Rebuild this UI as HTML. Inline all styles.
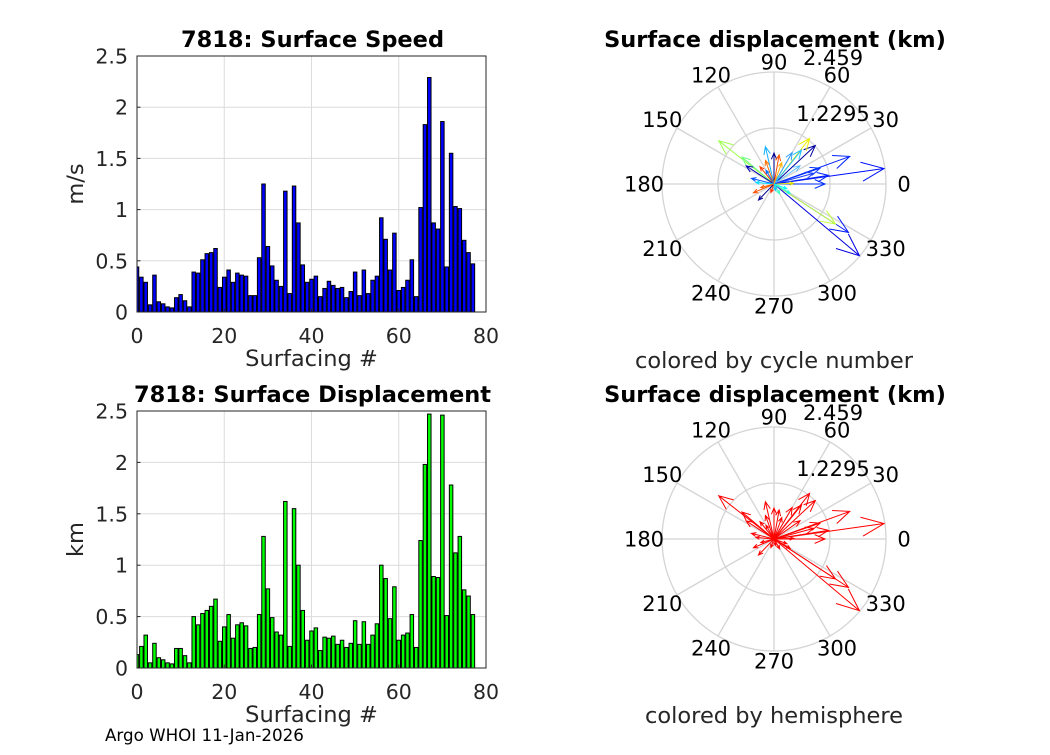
<!DOCTYPE html>
<html><head><meta charset="utf-8"><style>
body{margin:0;background:#fff;width:1050px;height:750px;overflow:hidden}
svg{font-family:"DejaVu Sans","Liberation Sans",sans-serif}
</style></head><body>
<svg id="fig" width="1050" height="750" viewBox="0 0 1050 750" xmlns="http://www.w3.org/2000/svg">
<rect width="1050" height="750" fill="#fff"/>
<text x="105" y="741" font-size="16.7" fill="#000">Argo WHOI 11-Jan-2026</text>
</svg>
<script>
const speedVals=[0.44,0.34,0.29,0.07,0.36,0.10,0.08,0.05,0.04,0.14,0.17,0.11,0.05,0.39,0.38,0.51,0.57,0.58,0.62,0.24,0.34,0.41,0.29,0.38,0.36,0.35,0.16,0.16,0.53,1.25,0.64,0.45,0.31,0.25,1.18,0.18,1.23,0.87,0.46,0.29,0.32,0.35,0.15,0.23,0.30,0.26,0.23,0.24,0.14,0.20,0.39,0.16,0.41,0.18,0.31,0.35,0.92,0.71,0.41,0.77,0.21,0.24,0.31,0.51,0.15,1.02,1.83,2.29,0.87,0.81,1.86,0.44,1.55,1.03,1.01,0.70,0.58,0.47];
const dispVals=[0.13,0.21,0.32,0.05,0.24,0.10,0.08,0.05,0.04,0.19,0.19,0.12,0.05,0.50,0.42,0.53,0.56,0.60,0.67,0.26,0.40,0.52,0.29,0.42,0.44,0.41,0.19,0.20,0.52,1.28,0.77,0.49,0.35,0.32,1.62,0.21,1.55,1.00,0.56,0.27,0.36,0.39,0.17,0.30,0.29,0.31,0.23,0.27,0.20,0.24,0.46,0.23,0.45,0.23,0.32,0.43,1.00,0.87,0.48,0.79,0.27,0.32,0.34,0.52,0.20,1.24,1.98,2.47,0.89,0.88,2.46,0.51,1.78,1.12,1.28,0.76,0.70,0.52];
const xTicks=[0,20,40,60,80];
const yTicks=[0,0.5,1,1.5,2,2.5];
const yTickLabels=["0","0.5","1","1.5","2","2.5"];
// polar arrows: angle (deg), length (km), color
const arrowAng=[8,20,320,327,327,0,43,52,142,140,147,90,103,80,129,203,226,51,19,9,330,166,2,60,110,175,250,300,35,120,195,15,70,285,340];
const arrowLen=[2.44,1.77,2.45,1.95,1.61,1.12,1.24,1.27,1.54,0.92,0.73,0.68,0.84,0.65,0.49,0.49,0.49,0.96,1.07,1.21,0.41,0.51,0.43,0.8,0.55,0.4,0.2,0.25,0.7,0.35,0.3,0.9,0.5,0.15,0.3];
const arrowCol=["#0010ff","#0020ff","#0000e0","#0018ff","#c0ff40","#0030ff","#0000a0","#f0f000","#a0ff50","#70ff80","#0000b0","#000090","#10b0ff","#ff5000","#ff4000","#ff5000","#000090","#20c0ff","#0030ff","#0020ff","#20ffe0","#0050ff","#e0e000","#30a0ff","#ff7000","#00e0ff","#ff3000","#40ffc0","#60c0ff","#0070ff","#ff6000","#2040ff","#ffb000","#00c0ff","#00ffff"];
const rMax=2.459;
const NS="http://www.w3.org/2000/svg";
const fig=document.getElementById('fig');
function mk(tag,attrs,parent){const e=document.createElementNS(NS,tag);for(const k in attrs)e.setAttribute(k,attrs[k]);(parent||fig).appendChild(e);return e;}
function txt(s,attrs,parent){const e=mk('text',attrs,parent);e.textContent=s;return e;}

function barChart(prefix,top,bottom,vals,fill,title,ylab){
  const L=137,R=486;
  const sx=v=>L+(v/80)*(R-L);
  const sy=v=>bottom-(v/2.5)*(bottom-top);
  const g=mk('g',{});
  
  
  xTicks.forEach(t=>{const l=mk('line',{x1:sx(t),x2:sx(t),y1:top,y2:bottom,stroke:'#dcdcdc','stroke-width':1},g);
    });
  yTicks.forEach(t=>{const l=mk('line',{x1:L,x2:R,y1:sy(t),y2:sy(t),stroke:'#dcdcdc','stroke-width':1},g);
    });
  const bw=(R-L)/80*0.8;
  vals.forEach((v,i)=>{
    const x0=Math.max(L,sx(i)-bw/2);const x1=sx(i)+bw/2;
    const b=mk('rect',{x:x0,y:sy(v),width:x1-x0,height:bottom-sy(v),fill:fill,stroke:'#000','stroke-width':1},g);
    
    
  });
  const box=mk('rect',{x:L,y:top,width:R-L,height:bottom-top,fill:'none',stroke:'#262626','stroke-width':1},g);
  
  xTicks.forEach(t=>{mk('line',{x1:sx(t),x2:sx(t),y1:bottom,y2:bottom-3.5,stroke:'#262626'},g);
    const e=txt(String(t),{x:sx(t),y:bottom+31,'font-size':20.5,'text-anchor':'middle',fill:'#262626'},g);
    });
  yTicks.forEach((t,i)=>{mk('line',{x1:L,x2:L+3.5,y1:sy(t),y2:sy(t),stroke:'#262626'},g);
    const e=txt(yTickLabels[i],{x:L-9,y:sy(t)+7.5,'font-size':20.5,'text-anchor':'end',fill:'#262626'},g);
    });
  const t=txt(title,{x:(L+R)/2+1,y:top-9,'font-size':22.5,'font-weight':'bold','text-anchor':'middle',fill:'#000'},g);
  
  const xl=txt('Surfacing #',{x:(L+R)/2,y:bottom+54,'font-size':22.5,'text-anchor':'middle',fill:'#262626'},g);
  
  const yl=txt(ylab,{x:0,y:0,'font-size':22.5,'text-anchor':'middle',fill:'#262626',transform:`translate(83,${(top+bottom)/2}) rotate(-90)`},g);
  
}
barChart('speed',56,312,speedVals,'#0000ff','7818: Surface Speed','m/s');
barChart('displacement',411,668,dispVals,'#00ff00','7818: Surface Displacement','km');

function polar(prefix,cx,cy,colorFn,caption){
  const R=112;
  const g=mk('g',{});
  
  
  [R/2,R].forEach(r=>{const c=mk('circle',{cx:cx,cy:cy,r:r,fill:'none',stroke:'#d4d4d4','stroke-width':1.3},g);
    });
  for(let a=0;a<360;a+=30){
    const rad=a*Math.PI/180;
    const s=mk('line',{x1:cx,y1:cy,x2:cx+R*Math.cos(rad),y2:cy-R*Math.sin(rad),stroke:'#d4d4d4','stroke-width':1.3},g);
    
    const lr=R+10+8*Math.abs(Math.cos(rad));
    const e=txt(String(a),{x:cx+lr*Math.cos(rad),y:cy-lr*Math.sin(rad)+7.5,'font-size':21,'text-anchor':'middle',fill:'#000'},g);
    
  }
  const sc=R/rMax;
  arrowAng.forEach((a,i)=>{
    const rad=a*Math.PI/180,l=arrowLen[i]*sc;
    const x2=cx+l*Math.cos(rad),y2=cy-l*Math.sin(rad);
    const col=colorFn(i);
    const h=Math.max(4,l*0.22);
    const ah=mk('path',{d:`M${cx},${cy}L${x2},${y2}M${x2-h*Math.cos(rad-0.4)},${y2+h*Math.sin(rad-0.4)}L${x2},${y2}L${x2-h*Math.cos(rad+0.4)},${y2+h*Math.sin(rad+0.4)}`,stroke:col,'stroke-width':1,fill:'none'},g);
    
    
  });
  const r1=txt('2.459',{x:cx+59,y:cy-119,'font-size':21,fill:'#000','text-anchor':'middle'},g);
  
  const r2=txt('1.2295',{x:cx+59,y:cy-63,'font-size':21,fill:'#000','text-anchor':'middle'},g);
  
  const t=txt('Surface displacement (km)',{x:cx+1,y:cy-137,'font-size':22.5,'font-weight':'bold','text-anchor':'middle',fill:'#000'},g);
  
  const c=txt(caption,{x:cx,y:cy+184,'font-size':22.5,'text-anchor':'middle',fill:'#262626'},g);
  
}
polar('cycle',774,184,i=>arrowCol[i],'colored by cycle number');
polar('hemisphere',774,539,i=>'#ff0000','colored by hemisphere');
</script>
</body></html>
